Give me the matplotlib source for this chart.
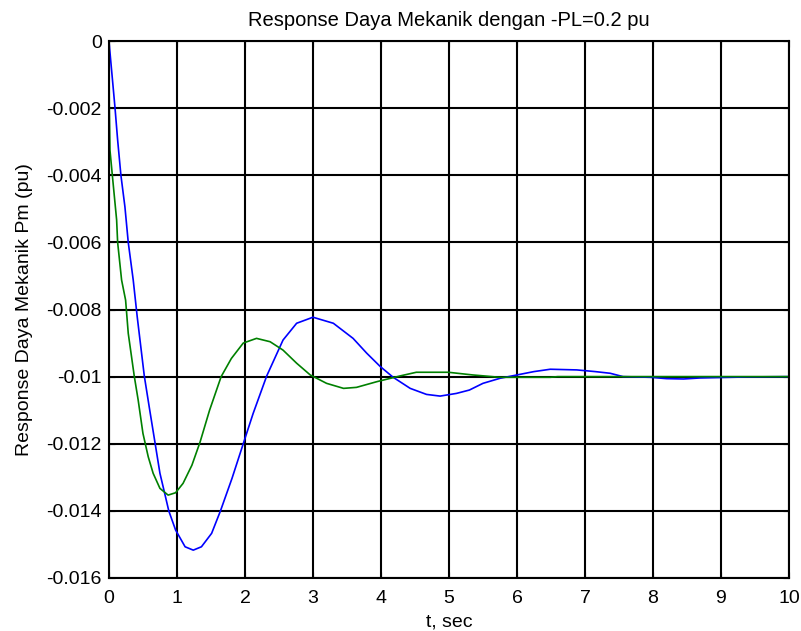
import matplotlib
matplotlib.use('Agg')
import matplotlib.pyplot as plt
import numpy as np

plt.rcParams['font.family'] = ['Liberation Sans', 'DejaVu Sans']
plt.rcParams['axes.unicode_minus'] = False

# respon daya mekanik
blue_t = [0, 0.088, 0.128, 0.176, 0.235, 0.284, 0.357, 0.416, 0.52, 0.60, 0.68,
          0.75, 0.82, 0.88, 0.98, 1.12, 1.24, 1.36, 1.51, 1.64, 1.81, 1.975,
          2.12, 2.32, 2.56, 2.76, 3.0, 3.30, 3.59, 3.79, 3.99, 4.18, 4.43, 4.67,
          4.87, 5.11, 5.30, 5.50, 5.75, 6.0, 6.25, 6.49, 6.88, 7.15, 7.37, 7.56,
          7.96, 8.2, 8.45, 8.69, 9.38, 10]
blue_y = [0, -0.00196, -0.00295, -0.0040, -0.00494, -0.0060, -0.00712, -0.00822,
          -0.00998, -0.0110, -0.0120, -0.01288, -0.01348, -0.0140, -0.01457,
          -0.01507, -0.01517, -0.01507, -0.01467, -0.0140, -0.01303, -0.0120,
          -0.0111, -0.00998, -0.00891, -0.00841, -0.00823, -0.00841, -0.00886,
          -0.0093, -0.0097, -0.01002, -0.01035, -0.01053, -0.01058, -0.0105,
          -0.0104, -0.0102, -0.01005, -0.00995, -0.00985, -0.00978, -0.0098,
          -0.00985, -0.0099, -0.0100, -0.01002, -0.01006, -0.01007, -0.01004,
          -0.01001, -0.0100]

green_t = [0, 0.005, 0.015, 0.05, 0.113, 0.128, 0.186, 0.245, 0.284, 0.372,
           0.43, 0.50, 0.578, 0.65, 0.75, 0.87, 0.98, 1.09, 1.22, 1.34, 1.48,
           1.65, 1.80, 1.975, 2.17, 2.37, 2.56, 2.76, 2.96, 3.20, 3.45, 3.64,
           3.94, 4.28, 4.52, 4.99, 5.35, 5.75, 6.49, 6.6, 10]
green_y = [0, -0.00196, -0.00325, -0.0040, -0.00533, -0.0060, -0.00712, -0.00772,
           -0.00871, -0.00998, -0.0107, -0.01169, -0.01239, -0.01288, -0.01333,
           -0.01353, -0.01346, -0.01318, -0.01264, -0.01195, -0.0110, -0.0100,
           -0.00946, -0.0090, -0.00886, -0.00896, -0.00921, -0.0096, -0.00995,
           -0.0102, -0.01035, -0.01032, -0.01015, -0.00998, -0.00987, -0.00987,
           -0.00995, -0.01002, -0.01002, -0.0100, -0.0100]

xticks = np.arange(0, 11, 1)
yticks = [0, -0.002, -0.004, -0.006, -0.008, -0.01, -0.012, -0.014, -0.016]
ytick_labels = ['0', '-0.002', '-0.004', '-0.006', '-0.008', '-0.01',
                '-0.012', '-0.014', '-0.016']

fig = plt.figure(figsize=(8.01, 6.31), dpi=100)
ax = fig.add_axes([0.136, 0.084, 0.849, 0.851])

ax.plot(blue_t, blue_y, color=(0, 0, 1), linewidth=1.2)
ax.plot(green_t, green_y, color=(0, 0.5, 0), linewidth=1.2)

ax.set_xlim(0, 10)
ax.set_ylim(-0.016, 0)
ax.set_xticks(xticks)
ax.set_yticks(yticks)
ax.set_yticklabels(ytick_labels)
ax.grid(True, color='black', linestyle='-', linewidth=1.5)
ax.set_axisbelow(True)
ax.tick_params(direction='in', top=True, right=True, labelsize=14, length=4)
ax.tick_params(axis='x', pad=9)
ax.tick_params(axis='y', pad=5)
for s in ax.spines.values():
    s.set_linewidth(1.5)

ax.set_title('Response Daya Mekanik dengan -PL=0.2 pu', fontsize=14.5, pad=11)
ax.set_xlabel('t, sec', fontsize=14, labelpad=4)
ax.set_ylabel('Response Daya Mekanik Pm (pu)', fontsize=14, labelpad=10)

fig.savefig('out.png', dpi=100)
